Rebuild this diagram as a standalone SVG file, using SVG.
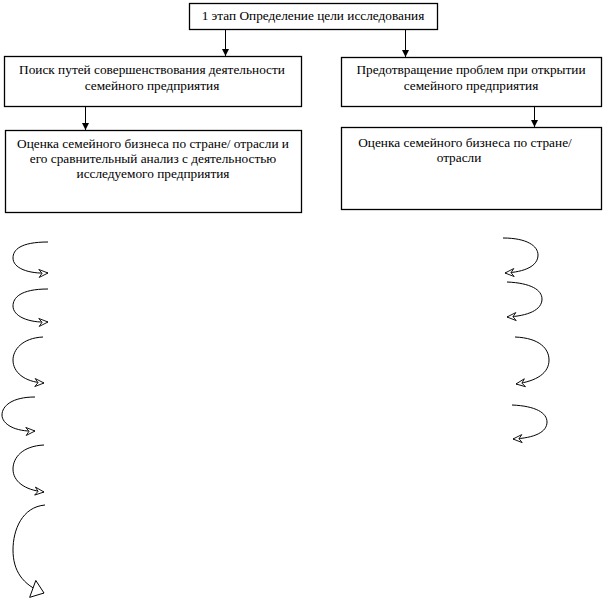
<svg xmlns="http://www.w3.org/2000/svg" width="603" height="603" viewBox="0 0 603 603">
<style>
.box{fill:#fff;stroke:#000;stroke-width:1.3}
.t{font-family:'Liberation Serif','Times New Roman','DejaVu Serif',serif;font-size:13.3px;fill:#000;text-anchor:middle}
.con{stroke:#000;stroke-width:1;fill:none}
.curl{stroke:#000;stroke-width:1;fill:none}
</style>
<defs>
<marker id="solid" markerWidth="8" markerHeight="8" refX="7" refY="4" orient="auto" markerUnits="userSpaceOnUse">
<path d="M0,0.5 L7,4 L0,7.5 Z" fill="#000"/>
</marker>
<marker id="open" markerWidth="12" markerHeight="10" refX="10" refY="5" orient="auto" markerUnits="userSpaceOnUse">
<path d="M1,1 L10,5 L1,9 L4,5 Z" fill="#fff" stroke="#000" stroke-width="0.9"/>
</marker>
<marker id="openBig" markerWidth="16" markerHeight="22" refX="13" refY="10" orient="auto" markerUnits="userSpaceOnUse">
<path d="M1,1 L13,10 L1,19 Z" fill="#fff" stroke="#000" stroke-width="0.9"/>
</marker>
</defs>

<g id="node-top">
<rect class="box" x="189.5" y="3.5" width="248" height="26"/>
<text class="t" x="313" y="20">1 этап Определение цели исследования</text>
</g>
<g id="node-search">
<rect class="box" x="4.5" y="56.5" width="297" height="50"/>
<text class="t" x="152" y="74">Поиск путей совершенствования деятельности</text>
<text class="t" x="152" y="90">семейного предприятия</text>
</g>
<g id="node-prevent">
<rect class="box" x="341.5" y="57.5" width="260" height="49"/>
<text class="t" x="471" y="74">Предотвращение проблем при открытии</text>
<text class="t" x="471" y="90">семейного предприятия</text>
</g>
<g id="node-eval-left">
<rect class="box" x="5.5" y="130.5" width="296" height="82"/>
<text class="t" x="153" y="148">Оценка семейного бизнеса по стране/ отрасли и</text>
<text class="t" x="153" y="163">его сравнительный анализ с деятельностью</text>
<text class="t" x="153" y="178">исследуемого предприятия</text>
</g>
<g id="node-eval-right">
<rect class="box" x="341.5" y="127.5" width="260" height="82"/>
<text class="t" x="465" y="147">Оценка семейного бизнеса по стране/</text>
<text class="t" x="459" y="162">отрасли</text>
</g>

<g id="connectors">
<line class="con" x1="225.5" y1="29.5" x2="225.5" y2="56" marker-end="url(#solid)"/>
<line class="con" x1="405.5" y1="29.5" x2="405.5" y2="57" marker-end="url(#solid)"/>
<line class="con" x1="85.5" y1="107" x2="85.5" y2="130" marker-end="url(#solid)"/>
<line class="con" x1="534.5" y1="106" x2="534.5" y2="127" marker-end="url(#solid)"/>

<path class="curl" d="M48,242 C20,242 13,250 13,258 C13,268 28,274 48,273" marker-end="url(#open)"/>
<path class="curl" d="M48,289 C20,289 13,298 13,306 C13,316 28,323 48,322" marker-end="url(#open)"/>
<path class="curl" d="M43,337 C22,338 13,350 13,360 C13,372 24,382 44,383" marker-end="url(#open)"/>
<path class="curl" d="M35,397 C12,397 2,406 2,415 C2,424 15,432 35,431" marker-end="url(#open)"/>
<path class="curl" d="M44,445 C22,446 13,458 13,469 C13,481 24,490 44,492" marker-end="url(#open)"/>
<path class="curl" d="M45,505 C22,507 13,530 13,550 C13,570 22,585 44,593" marker-end="url(#openBig)"/>

<path class="curl" d="M503,238 C527,238 538,246 538,255 C538,266 525,272 505,273" marker-end="url(#open)"/>
<path class="curl" d="M507,282 C531,283 542,290 542,299 C542,310 528,316 507,317" marker-end="url(#open)"/>
<path class="curl" d="M515,337 C540,338 549,349 549,360 C549,373 537,381 516,384" marker-end="url(#open)"/>
<path class="curl" d="M512,405 C536,406 547,413 547,422 C547,432 535,438 513,439" marker-end="url(#open)"/>
</g>
</svg>
